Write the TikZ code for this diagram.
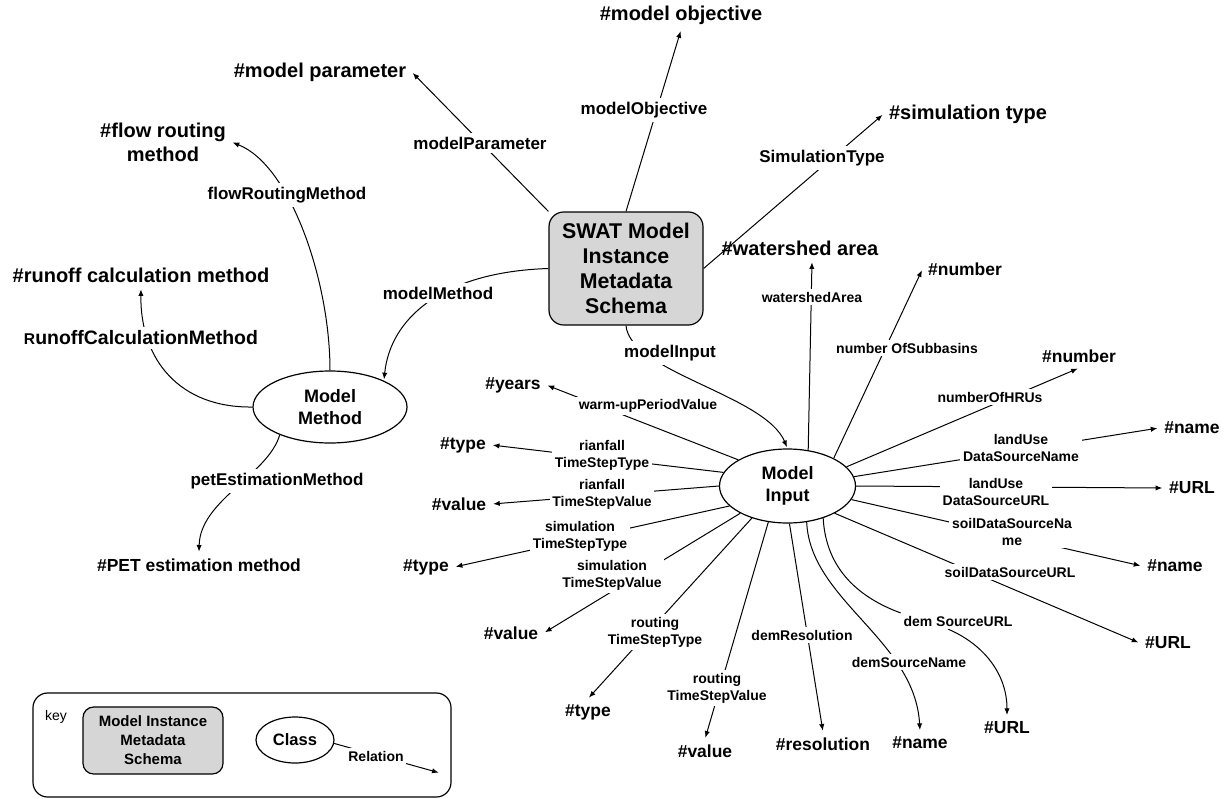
\documentclass[tikz,border=0pt]{standalone}
\usepackage{fontspec}
\setmainfont{Liberation Sans}
\usetikzlibrary{arrows.meta,shapes.geometric,calc,backgrounds}

\begin{document}
\begin{tikzpicture}[x=0.75pt,y=-0.75pt,
  every node/.style={inner sep=0pt},
  schemabox/.style={draw, line width=0.9pt, rounded corners=11pt, fill=black!16,
    align=center, font=\bfseries\fontsize{16}{18.75}\selectfont},
  classnode/.style={draw, ellipse, line width=0.9pt, fill=white, align=center,
    font=\bfseries\fontsize{13.5}{16.5}\selectfont},
  head/.style={inner sep=4pt, align=center, font=\bfseries\fontsize{15}{18}\selectfont},
  tag/.style={inner sep=4pt, align=center, font=\bfseries\fontsize{13.1}{15}\selectfont},
  rel/.style={fill=white, inner sep=3pt, align=center, font=\bfseries\fontsize{12.75}{15}\selectfont},
  relsm/.style={fill=white, inner sep=2pt, align=center, font=\bfseries\fontsize{10.5}{12.75}\selectfont},
  link/.style={line width=0.75pt},
  arr/.style={line width=0.75pt, shorten >=1pt, -{Latex[length=5pt,width=4pt]}}
]
\useasboundingbox (0,0) rectangle (1228,799);

% ---- central schema and classes
\node[schemabox, minimum width=115.5pt, minimum height=84.75pt] (swat) at (626,268.5)
  {SWAT Model\\Instance\\Metadata\\Schema};
\node[classnode, minimum width=115.5pt, minimum height=54pt] (mm) at (330,407) {Model\\Method};
\node[classnode, minimum width=102pt, minimum height=55.5pt] (mi) at (787.5,486) {Model\\Input};

% ---- value headings
\node[head] (tobj)  at (681,15)  {\#model objective};
\node[head] (tpar)  at (320,72)  {\#model parameter};
\node[head] (tsim)  at (968,114) {\#simulation type};
\node[head] (tflow) at (163,142) {\#flow routing\\method};
\node[head] (trun)  at (141,275) {\#runoff calculation method};
\node[head] (twat)  at (800,248) {\#watershed area};
\node[tag]  (tpet)  at (199,565) {\#PET estimation method};

\node[tag] (tnum1)  at (965,269)  {\#number};
\node[tag] (tnum2)  at (1079,356) {\#number};
\node[tag] (tname1) at (1192,428) {\#name};
\node[tag] (turl1)  at (1192,488) {\#URL};
\node[tag] (tname2) at (1175,566) {\#name};
\node[tag] (turl2)  at (1168,643) {\#URL};
\node[tag] (turl3)  at (1007,728) {\#URL};
\node[tag] (tname3) at (920,743)  {\#name};
\node[tag] (tres)   at (823,744)  {\#resolution};
\node[tag] (tval3)  at (705,751)  {\#value};
\node[tag] (ttype3) at (588,712)  {\#type};
\node[tag] (tval2)  at (511,633)  {\#value};
\node[tag] (ttype2) at (426,567)  {\#type};
\node[tag] (tval1)  at (459,504)  {\#value};
\node[tag] (ttype1) at (463,445)  {\#type};
\node[tag] (tyears) at (513,385)  {\#years};

% ---- relation labels
\node[rel] (lpar)  at (480,143) {modelParameter};
\node[rel] (lobj)  at (644,110) {modelObjective};
\node[rel] (lsim)  at (822,158) {SimulationType};
\node[rel] (lmeth) at (438,293) {modelMethod};
\node[rel] (lflow) at (287,195) {flowRoutingMethod};
\node[rel, font=\bfseries\fontsize{14.6}{17}\selectfont] (lrun) at (141,338)
  {{\fontsize{11.7}{12}\selectfont R}unoffCalculationMethod};
\node[rel] (lpet)  at (277,481) {petEstimationMethod};
\node[rel] (lmi)   at (670,353) {modelInput};

\node[relsm] (lwat)  at (812,297)  {watershedArea};
\node[relsm] (lsub)  at (907,348)  {number OfSubbasins};
\node[relsm] (lhru)  at (990,397)  {numberOfHRUs};
\node[relsm] (llun)  at (1021,448) {landUse\\DataSourceName};
\node[relsm] (lluu)  at (996,492)  {landUse\\DataSourceURL};
\node[relsm] (lsn)   at (1012,532) {soilDataSourceNa\\me};
\node[relsm] (lsu)   at (1010,572) {soilDataSourceURL};
\node[relsm] (ldu)   at (958,621)  {dem SourceURL};
\node[relsm] (ldn)   at (909,662)  {demSourceName};
\node[relsm] (ldr)   at (802,635)  {demResolution};
\node[relsm] (lrtv)  at (717,688)  {routing\\TimeStepValue};
\node[relsm] (lrtt)  at (655,632)  {routing\\TimeStepType};
\node[relsm] (lstv)  at (612,575)  {simulation\\TimeStepValue};
\node[relsm] (lstt)  at (580,536)  {simulation\\TimeStepType};
\node[relsm] (lrfv)  at (602,494)  {rianfall\\TimeStepValue};
\node[relsm] (lrft)  at (602,455)  {rianfall\\TimeStepType};
\node[relsm] (lwarm) at (648,406)  {warm-upPeriodValue};

% ---- key
\node[draw, line width=0.9pt, rounded corners=11pt, minimum width=313.5pt, minimum height=78pt]
  (keybox) at (242,745) {};
\node[font=\fontsize{10.5}{12}\selectfont] (keylbl) at (56,717) {key};
\node[schemabox, rounded corners=8pt, minimum width=105pt, minimum height=50.25pt,
  font=\bfseries\fontsize{11.25}{14.25}\selectfont] (kschema) at (153,740.5)
  {Model Instance\\Metadata\\Schema};
\node[classnode, minimum width=58.5pt, minimum height=34.5pt,
  font=\bfseries\fontsize{12.4}{14}\selectfont] (kclass) at (295,740) {Class};
\node[relsm] (krel) at (376,756) {Relation};
\coordinate (kend) at (440,773);

% ---- connectors, kept behind the labels that sit on them
\begin{pgfonlayer}{background}
\draw[arr] (swat.north west) -- (tpar.east);
\draw[arr] (swat.north) -- (tobj.south);
\draw[arr] (swat.east) -- (tsim.west);
\draw[arr] (swat.west) .. controls (440,272) and (390,320) .. (mm.26);
\draw[arr] (swat.south) .. controls (630,372) and (765,395) .. (mi.north);

\draw[arr] (mm.north) .. controls (330,280) and (290,165) .. (tflow.east);
\draw[arr] (mm.west) .. controls (180,408) and (140,360) .. (trun.south);
\draw[arr] (mm.-151) .. controls (268,475) and (200,500) .. (tpet.north);

\draw[arr] (mi.60) -- ($(twat.south)+(12,0)$);
\draw[arr] (mi.31) -- (tnum1.west);
\draw[arr] (mi.18) -- (tnum2.south);
\draw[arr] (mi.8) -- (tname1.west);
\draw[arr] (mi.east) -- (turl1.west);
\draw[arr] (mi.-12) -- (tname2.west);
\draw[arr] (mi.-30) -- (turl2.west);
\draw[link] (mi.-42) .. controls (826,570) and (860,598) .. (ldu.north west);
\draw[arr] ($(ldu.south)+(-10,0)$) .. controls (985,645) and (1007,675) .. (turl3.north);
\draw[arr] (mi.-62) .. controls (810,600) and (915,640) .. (tname3.north);
\draw[arr] (mi.-87) -- (tres.north);
\draw[arr] (mi.-118) -- (tval3.north);
\draw[arr] (mi.-138) -- (ttype3.north);
\draw[arr] (mi.-150) -- (tval2.east);
\draw[arr] (mi.-161) -- (ttype2.east);
\draw[arr] (mi.180) -- (tval1.east);
\draw[arr] (mi.168) -- (ttype1.east);
\draw[arr] (mi.152) -- (tyears.east);

\draw[arr] (kclass.-5) -- (kend);
\end{pgfonlayer}
\end{tikzpicture}
\end{document}
